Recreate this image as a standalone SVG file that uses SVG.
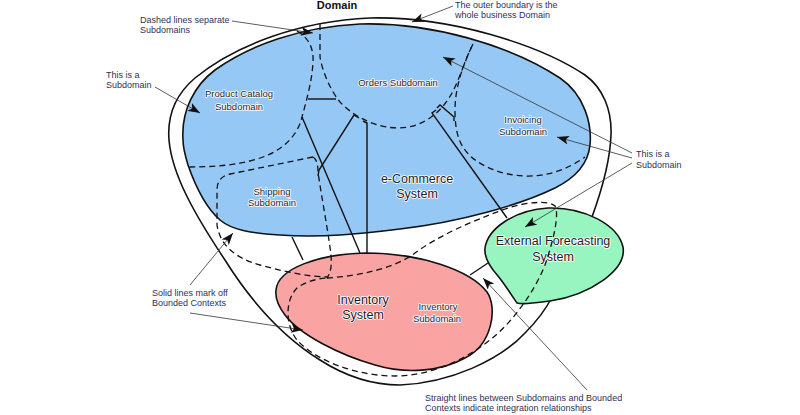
<svg xmlns="http://www.w3.org/2000/svg" width="800" height="415" viewBox="0 0 800 415">
<style>
.bc{stroke:#111;stroke-width:1.6;stroke-linejoin:round}
.sd{fill:none;stroke:#111;stroke-width:1.3;stroke-dasharray:6 4}
.ln{fill:none;stroke:#111;stroke-width:1.4}
.an{fill:none;stroke:#333;stroke-width:0.8}
.at{font-family:"Liberation Sans",Arial,sans-serif;font-size:9px;fill:#30305a}
.nl{font-family:"Liberation Sans",Arial,sans-serif;fill:#1c1c2c;text-anchor:middle;stroke:#fff;stroke-width:1.6;paint-order:stroke;stroke-linejoin:round}
.s{font-size:9.5px}
.b{font-size:12.5px}
</style>
<defs>
<marker id="ah" markerUnits="userSpaceOnUse" markerWidth="12" markerHeight="9" refX="12" refY="4.5" orient="auto">
<path d="M0,0 L12,4.5 L0,9 L3,4.5 z" fill="#111"/>
</marker>
</defs>
<rect width="800" height="415" fill="#fff"/>

<g id="domain">
<path class="bc" fill="none" d="M 592,217 C 600,195 610,165 611,135 C 612,110 603,88 585,75 C 540,45 450,16 370,18 C 300,21 235,45 195,78 C 175,95 167,115 169,140 C 172,175 195,215 225,260 C 250,300 280,335 320,360 C 345,376 370,385 400,385 C 450,383 500,360 525,333 C 540,318 548,305 552,297"/>
<text x="337" y="9" text-anchor="middle" style="font-family:'Liberation Sans',Arial,sans-serif;font-size:11px;font-weight:bold;fill:#111">Domain</text>
</g>

<g id="ecommerce">
<path class="bc" fill="#95c8f5" d="M 183,140 C 181,110 195,85 215,70 C 250,45 300,27 360,24 C 430,22 510,45 560,78 C 585,95 592,125 590,145 C 588,165 575,178 555,188 C 520,205 460,222 400,229 C 360,234 320,238 280,235 C 250,233 232,230 220,220 C 205,207 195,185 188,165 C 185,155 183,148 183,140 Z"/>
<text class="nl b" x="417" y="182.5">e-Commerce</text>
<text class="nl b" x="417" y="197.5">System</text>
</g>

<g id="inventory">
<path class="bc" fill="#f9a3a3" d="M 276,290 C 278,268 320,254 365,253 C 420,253 470,270 487,292 C 498,308 492,345 465,358 C 440,372 405,374 375,365 C 340,355 300,335 285,315 C 278,306 275,298 276,290 Z"/>
<text class="nl b" x="363" y="303.5">Inventory</text>
<text class="nl b" x="363" y="318.5">System</text>
</g>

<g id="forecasting">
<path class="bc" fill="#99f5c0" d="M 485,248 C 488,228 515,210 548,208 C 585,207 618,225 623,247 C 627,270 590,295 550,301 C 535,303 524,305 517,303 C 512,296 506,286 498,276 C 489,266 484,257 485,248 Z"/>
<text class="nl b" x="553" y="244.5">External Forecasting</text>
<text class="nl b" x="553" y="260.5">System</text>
</g>

<g id="product-catalog">
<path class="sd" d="M 297,31 C 308,37 314,48 313,62 C 312,82 306,102 302,117 C 299,130 290,145 268,155 C 245,165 215,167 189,167"/>
<text class="nl s" x="239" y="96.5">Product Catalog</text>
<text class="nl s" x="239" y="109.5">Subdomain</text>
</g>

<g id="orders">
<path class="sd" d="M 320,24 L 320,57 C 322,70 330,90 340,102 C 355,118 378,128 398,128 C 420,128 440,115 452,93 C 460,78 465,60 473,44"/>
<text class="nl s" x="398" y="85.5">Orders Subdomain</text>
</g>

<g id="invoicing">
<path class="sd" d="M 473,44 C 465,60 455,85 455,110 C 455,135 460,150 478,162 C 500,176 530,180 555,172 C 568,168 578,162 585,157"/>
<text class="nl s" x="523" y="122.5">Invoicing</text>
<text class="nl s" x="523" y="134.5">Subdomain</text>
</g>

<g id="shipping">
<path class="sd" d="M 313,157 L 230,174 Q 217,177 217,190 L 217,225 C 220,245 235,258 260,265 C 285,272 310,277 328,277"/>
<path class="sd" d="M 313,157 Q 318,160 318,172 C 322,200 328,230 331,255 C 332,268 330,274 327,278"/>
<text class="nl s" x="272" y="194.5">Shipping</text>
<text class="nl s" x="272" y="205.5">Subdomain</text>
</g>

<g id="inventory-subdomain">
<path class="sd" d="M 327,278 C 360,276 395,268 415,253 C 440,235 470,222 505,209 C 525,202 548,200 555,206 C 560,215 552,245 545,265 C 535,290 515,320 490,340 C 465,360 430,376 395,376 C 355,376 315,360 297,340 C 285,325 285,300 297,288 C 305,282 315,279 327,278"/>
<text class="nl s" x="438" y="309.5">Inventory</text>
<text class="nl s" x="437" y="321.5">Subdomain</text>
</g>

<g id="connectors">
<path class="ln" d="M 302,117 L 360,253"/>
<path class="ln" d="M 359,118 L 354,115 L 319,170 L 318,176"/>
<path class="ln" d="M 363,121 L 367,123 L 367,253"/>
<path class="ln" d="M 308,99 L 336,99"/>
<path class="ln" d="M 436,110 L 432,113 L 507,218"/>
<path class="ln" d="M 437,108 L 440,105 L 454,117 L 454,121"/>
<path class="ln" d="M 292,237 L 303,260"/>
<path class="ln" d="M 470,275 L 488,263"/>
</g>

<g id="annotations">
<path class="an" marker-end="url(#ah)" d="M 232,21 L 313,33"/>
<path class="an" marker-end="url(#ah)" d="M 155,87 L 200,113"/>
<path class="an" marker-end="url(#ah)" d="M 453,6 L 412,22"/>
<path class="an" marker-end="url(#ah)" d="M 632,153 L 443,57"/>
<path class="an" marker-end="url(#ah)" d="M 632,158 L 557,137"/>
<path class="an" marker-end="url(#ah)" d="M 632,163 L 525,227"/>
<path class="an" marker-end="url(#ah)" d="M 190,285 L 233,233"/>
<path class="an" marker-end="url(#ah)" d="M 190,313 L 303,330"/>
<path class="an" marker-end="url(#ah)" d="M 587,390 L 483,278"/>
<text class="at" x="140" y="23">Dashed lines separate</text>
<text class="at" x="140" y="33">Subdomains</text>
<text class="at" x="106" y="78">This is a</text>
<text class="at" x="106" y="88">Subdomain</text>
<text class="at" x="455" y="8">The outer boundary is the</text>
<text class="at" x="455" y="18">whole business Domain</text>
<text class="at" x="636" y="157">This is a</text>
<text class="at" x="636" y="168">Subdomain</text>
<text class="at" x="152" y="296">Solid lines mark off</text>
<text class="at" x="152" y="306">Bounded Contexts</text>
<text class="at" x="425" y="401">Straight lines between Subdomains and Bounded</text>
<text class="at" x="425" y="411">Contexts indicate integration relationships</text>
</g>
</svg>
